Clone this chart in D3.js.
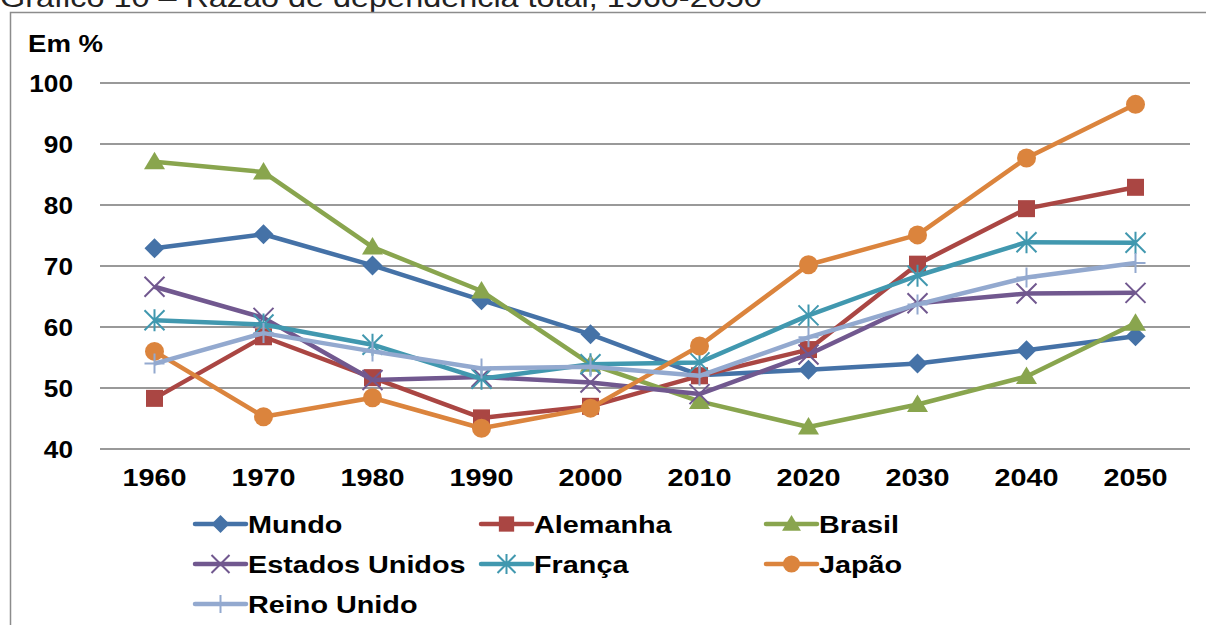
<!DOCTYPE html>
<html>
<head>
<meta charset="utf-8">
<script src="https://cdn.jsdelivr.net/npm/d3@7"></script>
<style>
  html, body { margin: 0; padding: 0; background: #fff; }
  svg { display: block; font-family: "Liberation Sans", Arial, Helvetica, sans-serif; }
</style>
</head>
<body>
<svg id="chart" width="1206" height="625"></svg>
<script>
// Decades on the horizontal axis
const years = ["1960", "1970", "1980", "1990", "2000", "2010", "2020", "2030", "2040", "2050"];
const yTicks = [40, 50, 60, 70, 80, 90, 100];

// Total dependency ratio (%) by country
const mundo        = [72.9, 75.2, 70.1, 64.4, 58.8, 52.1, 53.0, 54.0, 56.2, 58.5];
const alemanha     = [48.3, 58.4, 51.7, 45.1, 47.0, 52.0, 56.3, 70.3, 79.4, 82.9];
const brasil       = [87.1, 85.4, 73.1, 65.9, 53.9, 47.8, 43.6, 47.3, 51.9, 60.6];
const estadosUnidos= [66.6, 61.5, 51.3, 51.8, 50.9, 49.0, 55.5, 63.9, 65.5, 65.6];
const franca       = [61.1, 60.4, 57.1, 51.5, 53.9, 54.2, 61.9, 68.4, 73.9, 73.8];
const japao        = [56.0, 45.3, 48.4, 43.4, 46.7, 56.9, 70.2, 75.1, 87.7, 96.5];
const reinoUnido   = [54.0, 59.0, 56.0, 53.2, 53.5, 52.0, 58.3, 63.7, 68.1, 70.5];

const seriesNames = ["Mundo", "Alemanha", "Brasil", "Estados Unidos", "França", "Japão", "Reino Unido"];
const seriesValues = [mundo, alemanha, brasil, estadosUnidos, franca, japao, reinoUnido];
const seriesColors = ["#4572A7", "#AA4643", "#89A54E", "#71588F", "#4198AF", "#DB843D", "#93A9CF"];
const seriesMarkers = ["diamond", "square", "triangle", "x", "asterisk", "circle", "plus"];

// Text in this chart is set slightly wide
const STRETCH = 1.2;

const svg = d3.select("#chart");

// Title (partly above the frame)
svg.append("text")
  .attr("transform", `translate(0,7) scale(${STRETCH},1)`)
  .attr("font-size", 27)
  .attr("fill", "#222")
  .text("Gráfico 10 – Razão de dependência total, 1960-2050");

// Chart frame
svg.append("rect")
  .attr("x", 10.5).attr("y", 12.5)
  .attr("width", 1200).attr("height", 640)
  .attr("fill", "#fff")
  .attr("stroke", "#8c8c8c").attr("stroke-width", 1.5);

const plot = { left: 100, right: 1190, top: 83, bottom: 449 };

const x = d3.scaleBand().domain(years).range([plot.left, plot.right]);
const y = d3.scaleLinear().domain([40, 100]).range([plot.bottom, plot.top]);

// Gridlines
svg.append("g")
  .selectAll("line")
  .data(yTicks)
  .join("line")
  .attr("x1", plot.left).attr("x2", plot.right)
  .attr("y1", d => y(d)).attr("y2", d => y(d))
  .attr("stroke", "#999").attr("stroke-width", 2);

// Y axis labels
const yAxis = d3.axisLeft(y).tickValues(yTicks).tickSize(0).tickPadding(0);
const gy = svg.append("g")
  .attr("transform", `translate(${plot.left - 27},0)`)
  .call(yAxis);
gy.select(".domain").remove();
gy.selectAll("text")
  .attr("font-family", "'Liberation Sans', Arial, sans-serif")
  .attr("font-size", 23).attr("font-weight", "bold").attr("fill", "#000")
  .attr("dy", "0.36em")
  .attr("transform", `scale(${STRETCH * 0.95},1)`);

// X axis labels
const xAxis = d3.axisBottom(x).tickSize(0).tickPadding(0);
const gx = svg.append("g")
  .attr("transform", `translate(0,${plot.bottom + 20})`)
  .call(xAxis);
gx.select(".domain").remove();
gx.selectAll("text")
  .attr("font-family", "'Liberation Sans', Arial, sans-serif")
  .attr("font-size", 24).attr("font-weight", "bold").attr("fill", "#000")
  .attr("dy", "0.71em")
  .attr("transform", `scale(${STRETCH},1)`);

// Unit label
svg.append("text")
  .attr("transform", `translate(28,52) scale(${STRETCH},1)`)
  .attr("font-size", 23).attr("font-weight", "bold")
  .text("Em %");

// Marker drawing helper
function drawMarker(g, type, cx, cy, color, s) {
  switch (type) {
    case "diamond":
      g.append("path")
        .attr("d", `M${cx},${cy - s}L${cx + s},${cy}L${cx},${cy + s}L${cx - s},${cy}Z`)
        .attr("fill", color);
      break;
    case "square":
      g.append("rect")
        .attr("x", cx - s * 0.85).attr("y", cy - s * 0.85)
        .attr("width", s * 1.7).attr("height", s * 1.7)
        .attr("fill", color);
      break;
    case "triangle":
      g.append("path")
        .attr("d", `M${cx},${cy - s}L${cx + s * 1.05},${cy + s * 0.75}L${cx - s * 1.05},${cy + s * 0.75}Z`)
        .attr("fill", color);
      break;
    case "circle":
      g.append("circle").attr("cx", cx).attr("cy", cy).attr("r", s * 0.95).attr("fill", color);
      break;
    case "x":
      g.append("path")
        .attr("d", `M${cx - s},${cy - s}L${cx + s},${cy + s}M${cx - s},${cy + s}L${cx + s},${cy - s}`)
        .attr("stroke", color).attr("stroke-width", 2).attr("fill", "none");
      break;
    case "asterisk":
      g.append("path")
        .attr("d", `M${cx - s},${cy - s}L${cx + s},${cy + s}M${cx - s},${cy + s}L${cx + s},${cy - s}M${cx},${cy - s * 1.1}L${cx},${cy + s * 1.1}`)
        .attr("stroke", color).attr("stroke-width", 2).attr("fill", "none");
      break;
    case "plus":
      g.append("path")
        .attr("d", `M${cx - s},${cy}L${cx + s},${cy}M${cx},${cy - s}L${cx},${cy + s}`)
        .attr("stroke", color).attr("stroke-width", 2).attr("fill", "none");
      break;
  }
}

const line = d3.line()
  .x((d, i) => x(years[i]) + x.bandwidth() / 2)
  .y(d => y(d));

const seriesG = svg.append("g");
seriesValues.forEach((vals, k) => {
  const g = seriesG.append("g");
  g.append("path")
    .datum(vals)
    .attr("d", line)
    .attr("fill", "none")
    .attr("stroke", seriesColors[k])
    .attr("stroke-width", 4.5)
    .attr("stroke-linejoin", "round");
  vals.forEach((v, i) => {
    drawMarker(g, seriesMarkers[k], x(years[i]) + x.bandwidth() / 2, y(v), seriesColors[k], 10);
  });
});

// Legend
const legendCols = [195, 481, 766];
const legendRows = [524, 564, 604];
seriesNames.forEach((name, k) => {
  const lx = legendCols[k % 3];
  const ly = legendRows[Math.floor(k / 3)];
  const g = svg.append("g");
  g.append("line")
    .attr("x1", lx).attr("x2", lx + 51)
    .attr("y1", ly).attr("y2", ly)
    .attr("stroke", seriesColors[k]).attr("stroke-width", 4.5)
    .attr("stroke-linecap", "round");
  drawMarker(g, seriesMarkers[k], lx + 25.5, ly, seriesColors[k], 9);
  g.append("text")
    .attr("transform", `translate(${lx + 53},${ly}) scale(${STRETCH},1)`)
    .attr("dy", "0.36em")
    .attr("font-size", 24).attr("font-weight", "bold")
    .text(name);
});
</script>
</body>
</html>
